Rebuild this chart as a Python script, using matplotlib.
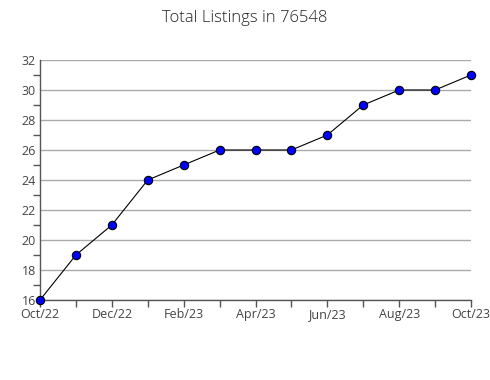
import matplotlib
matplotlib.use("Agg")
import matplotlib.pyplot as plt
from matplotlib.ticker import MultipleLocator

plt.rcParams['font.family'] = ['Open Sans', 'DejaVu Sans']

months = ['Oct/22', 'Nov/22', 'Dec/22', 'Jan/23', 'Feb/23', 'Mar/23', 'Apr/23',
          'May/23', 'Jun/23', 'Jul/23', 'Aug/23', 'Sep/23', 'Oct/23']
listings = [16, 19, 21, 24, 25, 26, 26, 26, 27, 29, 30, 30, 31]

fig = plt.figure(figsize=(4.9, 3.8), dpi=100)
ax = fig.add_axes([40 / 490, 1 - 300 / 380, 431 / 490, 240 / 380])

x = list(range(len(months)))
ax.plot(x, listings, color='black', linewidth=0.8, marker='o', markersize=6,
        markerfacecolor='#0000ff', markeredgecolor='black', markeredgewidth=0.8,
        zorder=5, clip_on=False)

ax.set_xlim(0, len(months) - 1)
ax.set_ylim(16, 32)
ax.yaxis.set_major_locator(MultipleLocator(2))
ax.yaxis.set_minor_locator(MultipleLocator(1))
ax.set_xticks(x)
ax.set_xticklabels([m if i % 2 == 0 else '' for i, m in enumerate(months)])

ax.grid(axis='y', which='major', color='#aaaaaa', linewidth=1)
ax.set_axisbelow(True)
for s in ['top', 'right']:
    ax.spines[s].set_visible(False)
for s in ['left', 'bottom']:
    ax.spines[s].set_color('#555555')
    ax.spines[s].set_linewidth(1)

ax.tick_params(axis='both', which='both', colors='#555555', labelcolor='#444444',
               labelsize=9, length=5, width=1)
ax.tick_params(axis='y', which='major', length=0, pad=3)
ax.tick_params(axis='x', pad=1)

fig.suptitle('Total Listings in 76548', x=0.5, y=0.975, fontsize=12,
             color='#222222', fontweight='light')

fig.savefig('out.png', dpi=100)
